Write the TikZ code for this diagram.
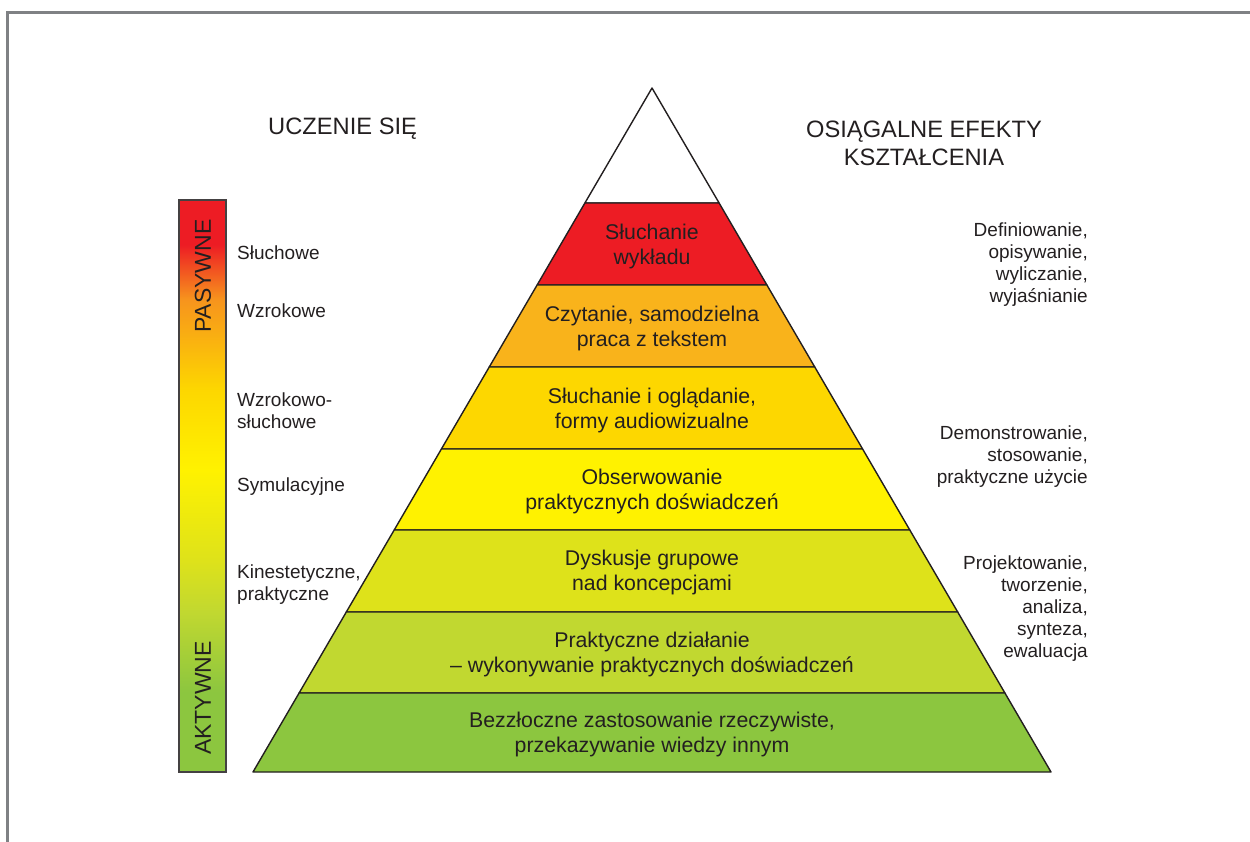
\documentclass[tikz,border=0pt]{standalone}
\usepackage{fontspec}
\setmainfont{Liberation Sans}
\usetikzlibrary{calc}
\definecolor{ink}{HTML}{231F20}
\definecolor{frame}{HTML}{7F8184}
\definecolor{cA}{HTML}{ED1C24}
\definecolor{cB}{HTML}{F9B31B}
\definecolor{cC}{HTML}{FDD700}
\definecolor{cD}{HTML}{FFF200}
\definecolor{cE}{HTML}{DEE21A}
\definecolor{cF}{HTML}{C1D830}
\definecolor{cG}{HTML}{8CC63F}
\definecolor{cOr}{HTML}{F7941D}
\pgfdeclareverticalshading{barshade}{100bp}{%
 color(0bp)=(cG); color(25bp)=(cG); color(32bp)=(cG); color(39bp)=(cF);
 color(43.5bp)=(cE); color(51.4bp)=(cD); color(58.4bp)=(cC);
 color(66.3bp)=(cOr); color(71.1bp)=(cA); color(75bp)=(cA); color(100bp)=(cA)}
\tikzset{
  band/.style={fill=#1, draw=ink, line width=1.4pt, line join=round},
  ptext/.style={align=center, text=ink, font=\fontsize{21.3}{25}\selectfont, inner sep=0pt},
  ltext/.style={align=left, anchor=west, text=ink, font=\fontsize{19}{22}\selectfont, inner sep=0pt},
  rtext/.style={align=right, anchor=east, text=ink, font=\fontsize{19}{22}\selectfont, inner sep=0pt},
  htext/.style={align=center, text=ink, font=\fontsize{23.7}{28}\selectfont, inner sep=0pt},
  bartext/.style={text=ink, font=\fontsize{23}{28}\selectfont, inner sep=0pt, rotate=90}
}
\begin{document}
\begin{tikzpicture}[x=1pt,y=-1pt]
\useasboundingbox (0,0) rectangle (1250,841);
% frame
\draw[frame, line width=2.5pt] (7.5,845) -- (7.5,12.5) -- (1255,12.5);
% pyramid
\coordinate (apex) at (652,88);
\draw[band=white] (apex) -- (719.1,203) -- (584.9,203) -- cycle;
\draw[band=cA] (584.9,203) -- (719.1,203) -- (766.9,285) -- (537.1,285) -- cycle;
\draw[band=cB] (537.1,285) -- (766.9,285) -- (814.75,367) -- (489.25,367) -- cycle;
\draw[band=cC] (489.25,367) -- (814.75,367) -- (862.6,449) -- (441.4,449) -- cycle;
\draw[band=cD] (441.4,449) -- (862.6,449) -- (909.8,530) -- (394.2,530) -- cycle;
\draw[band=cE] (394.2,530) -- (909.8,530) -- (957.7,612) -- (346.3,612) -- cycle;
\draw[band=cF] (346.3,612) -- (957.7,612) -- (1004.9,693) -- (299.1,693) -- cycle;
\draw[band=cG] (299.1,693) -- (1004.9,693) -- (1051,772) -- (253,772) -- cycle;
% pyramid texts
\node[ptext] (p1) at (652,246) {Słuchanie\\wykładu};
\node[ptext] (p2) at (652,328) {Czytanie, samodzielna\\praca z tekstem};
\node[ptext] (p3) at (652,410) {Słuchanie i oglądanie,\\formy audiowizualne};
\node[ptext] (p4) at (652,491) {Obserwowanie\\praktycznych doświadczeń};
\node[ptext] (p5) at (652,572) {Dyskusje grupowe\\nad koncepcjami};
\node[ptext] (p6) at (652,654) {Praktyczne działanie\\– wykonywanie praktycznych doświadczeń};
\node[ptext] (p7) at (652,734) {Bezzłoczne zastosowanie rzeczywiste,\\przekazywanie wiedzy innym};
% bar
\shade[shading=barshade] (179,200) rectangle (226,772);
\draw[ink!85, line width=1.2pt] (179,200) rectangle (226,772);
\node[bartext] (pas) at (203,276) {PASYWNE};
\node[bartext] (akt) at (203,698) {AKTYWNE};
% headings
\node[htext, anchor=west] (h1) at (268,129) {UCZENIE SIĘ};
\node[htext] (h2) at (924,143) {OSIĄGALNE EFEKTY\\KSZTAŁCENIA};
% left labels
\node[ltext] (l1) at (237,253) {Słuchowe};
\node[ltext] (l2) at (237,311) {Wzrokowe};
\node[ltext] (l3) at (237,411) {Wzrokowo-\\słuchowe};
\node[ltext] (l4) at (237,487) {Symulacyjne};
\node[ltext] (l5) at (237,585) {Kinestetyczne,\\praktyczne};
% right labels
\node[rtext] (r1) at (1088,265) {Definiowanie,\\opisywanie,\\wyliczanie,\\wyjaśnianie};
\node[rtext] (r2) at (1088,457) {Demonstrowanie,\\stosowanie,\\praktyczne użycie};
\node[rtext] (r3) at (1088,609) {Projektowanie,\\tworzenie,\\analiza,\\synteza,\\ewaluacja};
\end{tikzpicture}
\end{document}
